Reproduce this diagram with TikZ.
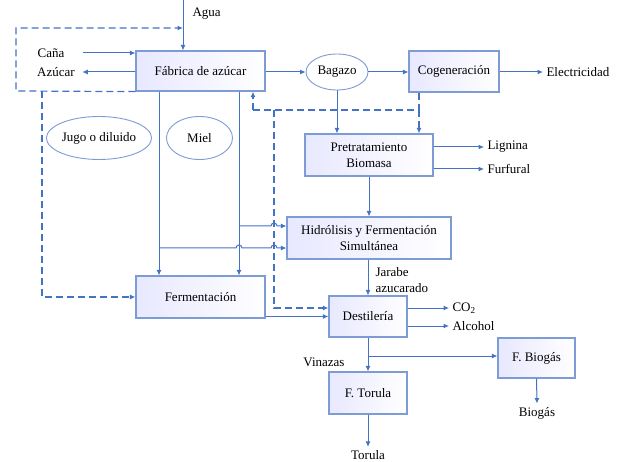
\documentclass[tikz,border=0pt]{standalone}
\usepackage{fontspec}
\setmainfont{Liberation Serif}
\usepackage{tikz}
\usetikzlibrary{arrows.meta,shapes.geometric}
\definecolor{lineblue}{RGB}{68,114,196}
\definecolor{boxblue}{RGB}{125,155,212}

\begin{document}
\begin{tikzpicture}[x=1pt,y=-1pt,>={Latex[length=5.5pt,width=5pt]},
  font=\fontsize{13}{16}\selectfont]
 \tikzstyle{box}=[draw=boxblue, line width=1.2pt, align=center, left color=blue!9, right color=white, inner sep=2pt]
 \tikzstyle{oval}=[draw=boxblue, line width=0.9pt, ellipse, inner sep=0pt]
 \tikzstyle{flow}=[draw=lineblue, line width=1pt]
 \tikzstyle{recyc}=[flow, line width=1.2pt, dash pattern=on 7pt off 4pt]
 \useasboundingbox (0,0) rectangle (626,462);
 % boxes
 \node[box, minimum width=129, minimum height=40] (fab) at (200.5,71) {Fábrica de azúcar};
 \node[oval, minimum width=62, minimum height=36] (bag) at (337,72) {Bagazo};
 \node[box, minimum width=90, minimum height=41] (cog) at (454,71.5) {Cogeneración};
 \node[box, minimum width=128, minimum height=42] (pre) at (369,155) {Pretratamiento\\Biomasa};
 \node[box, minimum width=164, minimum height=42] (hid) at (369,238) {Hidrólisis y Fermentación\\Simultánea};
 \node[box, minimum width=129, minimum height=42] (ferm) at (200.5,297) {Fermentación};
 \node[box, minimum width=78, minimum height=41] (des) at (368,316.5) {Destilería};
 \node[box, minimum width=77, minimum height=40] (bio) at (536.5,358) {F. Biogás};
 \node[box, minimum width=78, minimum height=42] (tor) at (368,393) {F. Torula};
 \node[oval, minimum width=104, minimum height=43] (jugo) at (99,138) {Jugo o diluido};
 \node[oval, minimum width=66, minimum height=43] (miel) at (199.5,138) {Miel};
 % texts
 \node[anchor=west] (agua) at (189,14) {Agua};
 \node (cana) at (51,53) {Caña};
 \node (azu) at (56,72) {Azúcar};
 \node[anchor=west] (elec) at (543,72) {Electricidad};
 \node[anchor=west] (lig) at (484,147) {Lignina};
 \node[anchor=west] (fur) at (484,169) {Furfural};
 \node[anchor=west, align=left] (jar) at (372,280) {Jarabe\\azucarado};
 \node[anchor=west] (co2) at (449,308) {CO\textsubscript{2}};
 \node[anchor=west] (alc) at (449,326) {Alcohol};
 \node (vin) at (324,362) {Vinazas};
 \node (biog) at (537,413) {Biogás};
 \node (torl) at (368,455) {Torula};
 % points
 \coordinate (aguatop) at (183,0);
 \coordinate (d1) at (16,28);
 \coordinate (d2) at (16,91);
 \coordinate (d3) at (42,91);
 \coordinate (xj) at (159,0);
 \coordinate (xm) at (239,0);
 \coordinate (e1) at (419,110);
 \coordinate (e2) at (253,110);
 \coordinate (e3) at (274,110);
 \coordinate (h1) at (239,226);
 \coordinate (h2) at (159,248);
 \coordinate (vb) at (368,356);
 % solid flows
 \draw[flow,->] (aguatop) -- (fab.north -| aguatop);
 \draw[flow,->] ([xshift=15pt]cana.east) -- (fab.west |- cana);
 \draw[flow,->] (fab.west |- azu) -- ([xshift=4pt]azu.east);
 \draw[flow,->] (fab.east |- bag) -- (bag.west);
 \draw[flow,->] (bag.east) -- (cog.west |- bag);
 \draw[flow,->] (cog.east |- elec) -- (elec.west);
 \draw[flow,->] (bag.south) -- (bag.south |- pre.north);
 \draw[flow,->] (pre.east |- lig) -- (lig.west);
 \draw[flow,->] (pre.east |- fur) -- (fur.west);
 \draw[flow,->] (pre.south) -- (hid.north);
 \draw[flow,->] (fab.south -| xj) -- (ferm.north -| xj);
 \draw[flow,->] (fab.south -| xm) -- (ferm.north -| xm);
 \draw[flow,->] (h1) -- (271,226) arc[start angle=180,end angle=0,radius=3pt] -- (hid.west |- h1);
 \draw[flow,->] (h2) -- (236,248) arc[start angle=180,end angle=0,radius=3pt] -- (271,248) arc[start angle=180,end angle=0,radius=3pt] -- (hid.west |- h2);
 \draw[flow,->] (hid.south -| des) -- (des.north);
 \draw[flow,->] (ferm.east |- des.west) -- (des.west);
 \draw[flow,->] (des.east |- co2) -- (co2.west);
 \draw[flow,->] (des.east |- alc) -- (alc.west);
 \draw[flow,->] (des.south) -- (tor.north);
 \draw[flow,->] (vb) -- (bio.west |- vb);
 \draw[flow,->] (bio.south) -- (biog.north);
 \draw[flow,->] (tor.south) -- (torl.north);
 % dashed flows
 \draw[recyc,->] (fab.south west) -- (d2) -- (d1) -- (aguatop |- d1);
 \draw[recyc,->] (d3) -- (d3 |- ferm.west) -- (ferm.west);
 \draw[recyc] (cog.south -| e1) -- (e1) -- (e2);
 \draw[recyc,->] (e2) -- (fab.south -| e2);
 \draw[recyc,->] (e1) -- (pre.north -| e1);
 \draw[recyc,->] (e3) -- (274,308) -- (des.west |- 0,308);
\end{tikzpicture}
\end{document}
